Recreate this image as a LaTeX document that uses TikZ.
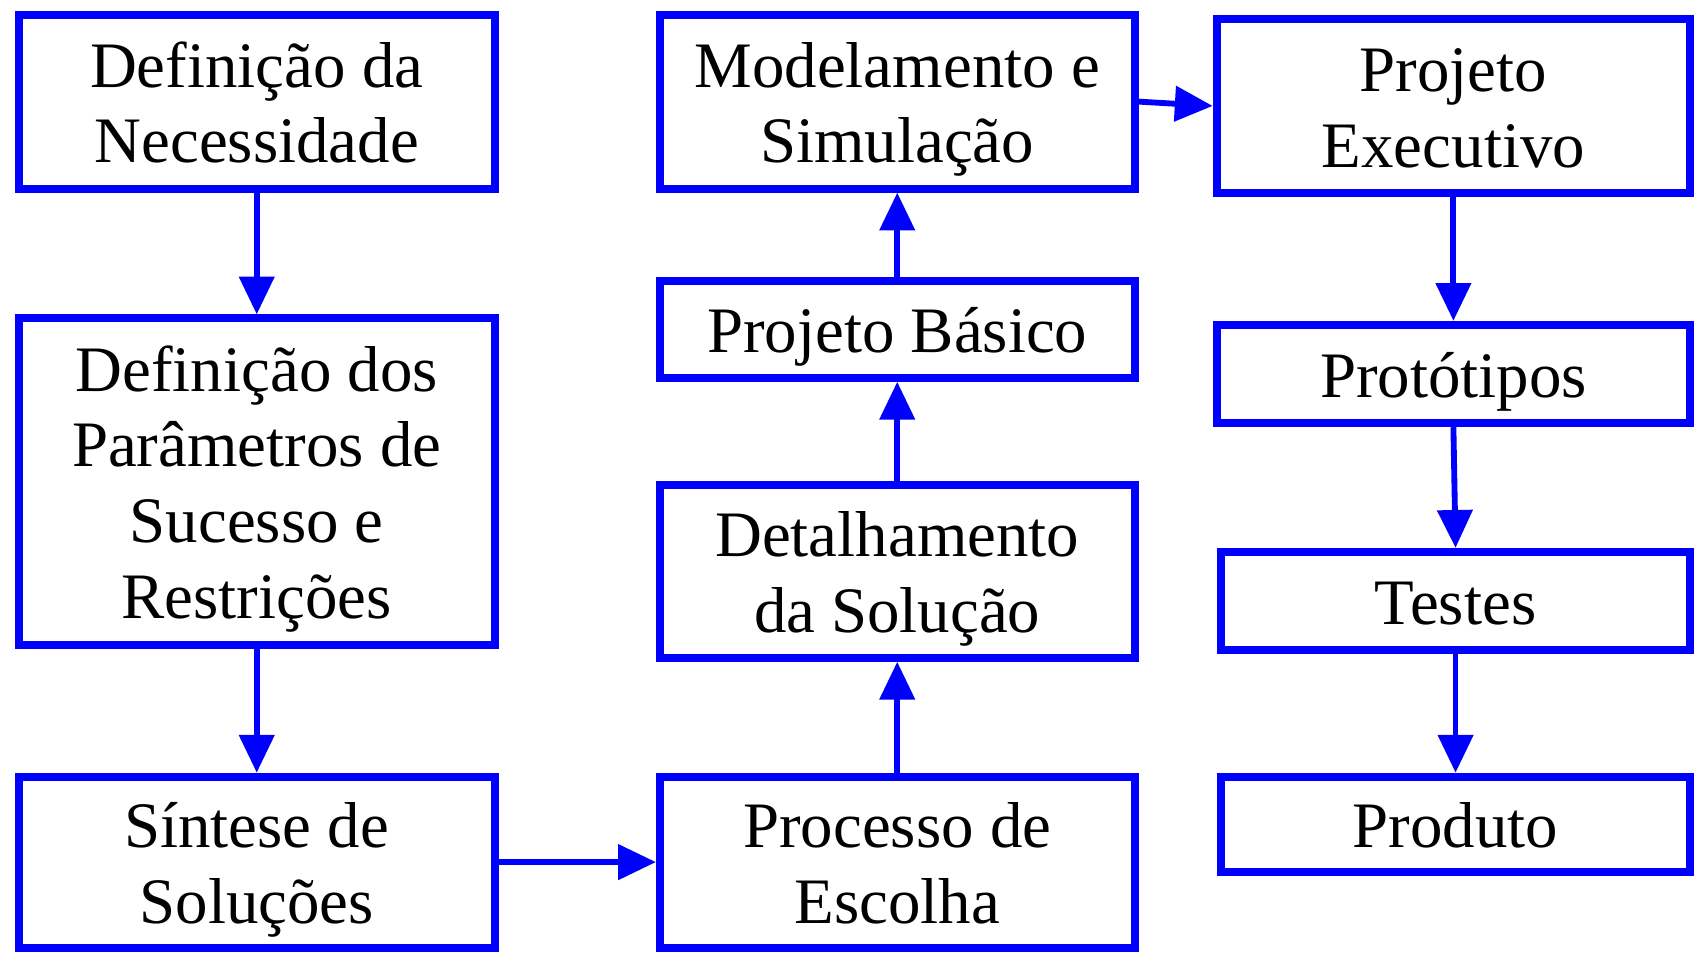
\documentclass[tikz,border=0pt]{standalone}
\usepackage{fontspec}
\setmainfont{Liberation Serif}
\usetikzlibrary{arrows.meta}
\newcommand{\alto}{\rule{0pt}{29pt}}
\newcommand{\baixo}{\rule[-7.5pt]{0pt}{7.5pt}}

\begin{document}
\begin{tikzpicture}[x=0.5pt,y=-0.5pt,
  etapa/.style={draw=blue,line width=3.7pt,fill=white,align=center,inner sep=0pt,
    font=\fontsize{30}{35}\selectfont},
  seta/.style={blue,line width=2.7pt,-{Triangle[length=17.5pt,width=16pt]}}]

\useasboundingbox (0,0) rectangle (1568,883);

% coluna da esquerda
\node[etapa,minimum width=220pt,minimum height=80.5pt] (nec) at (237.5,94) {\alto Definição da\\Necessidade\baixo};
\node[etapa,minimum width=220pt,minimum height=151pt] (par) at (237.5,445.5) {\alto Definição dos\\Parâmetros de\\Sucesso e\\Restrições\baixo};
\node[etapa,minimum width=220pt,minimum height=79pt] (sin) at (237.5,797.5) {\alto Síntese de\\Soluções\baixo};

% coluna do meio
\node[etapa,minimum width=219.5pt,minimum height=80.5pt] (mod) at (830,94) {\alto Modelamento e\\Simulação\baixo};
\node[etapa,minimum width=219.5pt,minimum height=45pt] (bas) at (830,304.5) {\alto Projeto Básico\baixo};
\node[etapa,minimum width=219.5pt,minimum height=80pt] (det) at (830,528.5) {\alto Detalhamento\\da Solução\baixo};
\node[etapa,minimum width=219.5pt,minimum height=79pt] (esc) at (830,797.5) {\alto Processo de\\Escolha\baixo};

% coluna da direita
\node[etapa,minimum width=219pt,minimum height=80.5pt] (exe) at (1344.5,98) {\alto Projeto\\Executivo\baixo};
\node[etapa,minimum width=219pt,minimum height=45.5pt] (pro) at (1344.5,346) {\alto Protótipos\baixo};
\node[etapa,minimum width=217pt,minimum height=45.5pt] (tes) at (1346.5,556) {\alto Testes\baixo};
\node[etapa,minimum width=217pt,minimum height=44pt] (prd) at (1346.5,762.5) {\alto Produto\baixo};

\draw[seta] (nec) -- (par);
\draw[seta] (par) -- (sin);
\draw[seta] (sin) -- (esc);
\draw[seta] (esc) -- (det);
\draw[seta] (det) -- (bas);
\draw[seta] (bas) -- (mod);
\draw[seta] (mod.east) -- (exe.west);
\draw[seta] (exe) -- (pro);
\draw[seta] (pro.south) -- (tes.north);
\draw[seta] (tes) -- (prd);
\end{tikzpicture}
\end{document}
